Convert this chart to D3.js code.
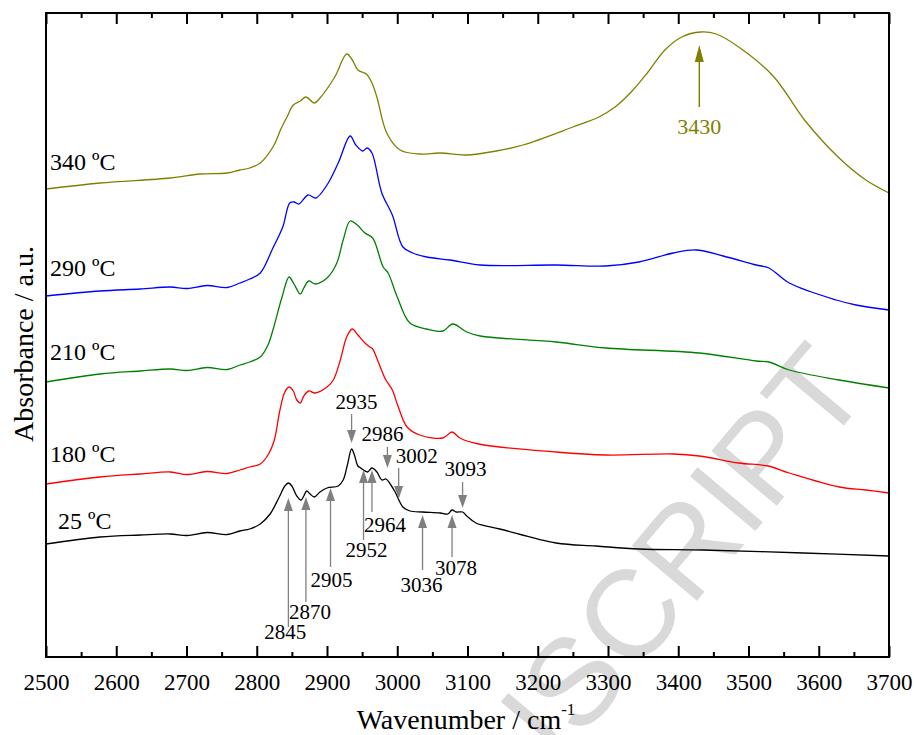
<!DOCTYPE html>
<html>
<head>
<meta charset="utf-8">
<script src="https://cdn.jsdelivr.net/npm/d3@7"></script>
<style>
  body { margin: 0; background: #fff; }
  svg { display: block; }
  text { font-family: "Liberation Serif", "Times New Roman", serif; }
</style>
</head>
<body>
<svg id="chart" width="916" height="735"></svg>
<script>
// FTIR spectra at several temperatures (absorbance in a.u., stacked)

var wn25 = [2500,2577,2634,2677,2701,2729,2758,2776,2790,2805,2819,2832,2840,2845,2850,2857,2863,2867,2871,2876,2882,2890,2900,2916,2923,2929,2935,2939,2944,2948,2952,2958,2964,2971,2978,2984,2990,2997,3008,3018,3036,3061,3072,3078,3084,3093,3099,3112,3146,3226,3283,3344,3435,3578,3700];
var abs25 = [1.13,1.20,1.22,1.23,1.215,1.245,1.225,1.26,1.28,1.33,1.43,1.60,1.71,1.74,1.71,1.61,1.57,1.61,1.66,1.63,1.60,1.65,1.69,1.71,1.77,1.92,2.08,2.02,1.91,1.89,1.87,1.85,1.89,1.85,1.77,1.78,1.73,1.65,1.50,1.46,1.45,1.44,1.43,1.47,1.45,1.45,1.41,1.34,1.28,1.14,1.11,1.08,1.07,1.04,1.01];

var wn180 = [2500,2577,2634,2677,2701,2729,2758,2776,2790,2805,2816,2825,2833,2840,2846,2852,2857,2862,2867,2874,2883,2900,2909,2919,2928,2936,2944,2954,2961,2965,2973,2983,2993,3000,3014,3032,3065,3078,3089,3116,3226,3297,3393,3430,3486,3528,3558,3629,3667,3700];
var abs180 = [1.73,1.80,1.83,1.85,1.825,1.855,1.835,1.87,1.90,1.93,2.02,2.17,2.47,2.65,2.70,2.66,2.57,2.54,2.61,2.66,2.64,2.70,2.77,2.97,3.20,3.28,3.22,3.14,3.10,3.08,2.95,2.78,2.67,2.53,2.30,2.22,2.19,2.25,2.19,2.13,2.05,2.02,2.03,2.01,1.94,1.91,1.84,1.70,1.67,1.64];

var wn210 = [2500,2577,2634,2677,2701,2729,2758,2776,2790,2805,2816,2823,2836,2846,2853,2862,2867,2874,2883,2900,2914,2923,2933,2943,2954,2965,2980,2987,3000,3018,3042,3065,3079,3099,3118,3226,3297,3430,3511,3529,3558,3629,3700];
var abs210 = [2.75,2.83,2.86,2.88,2.865,2.895,2.875,2.92,2.95,3.00,3.12,3.27,3.60,3.80,3.73,3.63,3.69,3.76,3.73,3.79,3.94,4.17,4.36,4.32,4.24,4.19,3.90,3.84,3.60,3.34,3.28,3.26,3.33,3.25,3.21,3.15,3.09,3.04,2.96,2.95,2.87,2.77,2.69];

var wn290 = [2500,2577,2634,2677,2701,2729,2758,2776,2790,2805,2823,2837,2847,2853,2860,2873,2884,2900,2916,2933,2941,2951,2957,2964,2978,2993,3008,3022,3042,3075,3118,3226,3297,3344,3393,3425,3464,3511,3529,3558,3625,3653,3700];
var abs290 = [3.61,3.66,3.68,3.70,3.685,3.715,3.695,3.74,3.78,3.84,4.09,4.30,4.54,4.55,4.53,4.62,4.59,4.72,4.94,5.21,5.12,5.06,5.09,5.04,4.64,4.42,4.10,4.04,4.00,3.97,3.92,3.92,3.91,3.95,4.04,4.07,4.01,3.92,3.89,3.74,3.57,3.52,3.47];

var wn340 = [2500,2577,2677,2719,2758,2776,2790,2805,2823,2835,2843,2852,2862,2870,2882,2890,2911,2928,2936,2944,2956,2964,2971,2985,3004,3032,3061,3098,3141,3179,3250,3287,3310,3333,3357,3381,3405,3432,3454,3486,3535,3582,3629,3667,3700];
var abs340 = [4.68,4.74,4.79,4.83,4.84,4.87,4.89,4.94,5.10,5.29,5.40,5.52,5.56,5.60,5.54,5.59,5.80,6.03,5.97,5.87,5.83,5.74,5.60,5.24,5.07,5.03,5.04,5.02,5.06,5.12,5.30,5.40,5.50,5.65,5.85,6.07,6.20,6.25,6.23,6.10,5.81,5.35,4.99,4.77,4.64];

var tempLabels = ["25 ºC", "180 ºC", "210 ºC", "290 ºC", "340 ºC"];
var xTicks = [2500,2600,2700,2800,2900,3000,3100,3200,3300,3400,3500,3600,3700];

// band positions marked on the 25 ºC spectrum
var peaks25 = [2845, 2870, 2905, 2935, 2952, 2964, 2986, 3002, 3036, 3078, 3093];
var peak340 = 3430;

var colors = ["#000000", "#ff0000", "#008000", "#0000ff", "#808000"];

var serif = "'Liberation Serif', 'Times New Roman', serif";

var svg = d3.select("#chart");

var x = d3.scaleLinear().domain([2500, 3700]).range([46, 889]);
var y = d3.scaleLinear().domain([0, 6.44]).range([657, 13]);

// watermark
svg.append("text")
    .attr("transform", "translate(872,392) rotate(-50)")
    .attr("text-anchor", "end")
    .style("font-family", "'Liberation Sans', Arial, sans-serif")
    .style("font-size", "124px")
    .attr("fill", "#d9d9d9")
    .text("ACCEPTED MANUSCRIPT");

var series = [
    {w: wn25, a: abs25},
    {w: wn180, a: abs180},
    {w: wn210, a: abs210},
    {w: wn290, a: abs290},
    {w: wn340, a: abs340}
];

var line = d3.line()
    .x(function (d) { return x(d[0]); })
    .y(function (d) { return y(d[1]); })
    .curve(d3.curveCatmullRom.alpha(0.5));

series.forEach(function (s, i) {
    var pts = s.w.map(function (w, j) { return [w, s.a[j]]; });
    svg.append("path")
        .datum(pts)
        .attr("fill", "none")
        .attr("stroke", colors[i])
        .attr("stroke-width", 1.3)
        .attr("d", line);
});

// temperature labels at the left
var labelBase = [529, 462, 360, 276, 170];
tempLabels.forEach(function (t, i) {
    svg.append("text")
        .attr("x", i === 0 ? 58 : 50)
        .attr("y", labelBase[i])
        .style("font-family", serif)
        .style("font-size", "24px")
        .attr("fill", "#000")
        .text(t);
});

// arrows for the peak assignments
// tip, tail, label baseline (a.u.), label dx (px)
var arrowLayout = [
    [1.59, 0.30, 0.18, -3],
    [1.60, 0.55, 0.38, 4],
    [1.69, 0.90, 0.70, 1],
    [2.14, 2.43, 2.48, 5],
    [1.87, 1.17, 1.00, 3],
    [1.87, 1.45, 1.25, 13],
    [1.89, 2.10, 2.16, -5],
    [1.58, 1.89, 1.94, 18],
    [1.42, 0.87, 0.65, -1],
    [1.42, 1.00, 0.82, 4],
    [1.49, 1.75, 1.81, 3]
];

function arrow(g, xp, yTip, yTail, color, headLen, headW, sw) {
    var dir = yTail > yTip ? 1 : -1;   // +1: arrow points up
    g.append("line")
        .attr("x1", xp).attr("x2", xp)
        .attr("y1", yTail).attr("y2", yTip + dir * headLen * 0.8)
        .attr("stroke", color)
        .attr("stroke-width", sw);
    g.append("path")
        .attr("d", "M" + xp + "," + yTip +
                   "L" + (xp - headW) + "," + (yTip + dir * headLen) +
                   "L" + (xp + headW) + "," + (yTip + dir * headLen) + "Z")
        .attr("fill", color);
}

var ann = svg.append("g");
peaks25.forEach(function (p, i) {
    var L = arrowLayout[i];
    var xp = x(p);
    arrow(ann, xp, y(L[0]), y(L[1]), "#808080", 13, 4.5, 1.3);
    ann.append("text")
        .attr("x", xp + L[3])
        .attr("y", y(L[2]))
        .attr("text-anchor", "middle")
        .style("font-family", serif)
        .style("font-size", "21px")
        .attr("fill", "#000")
        .text(p);
});

arrow(ann, x(peak340), y(6.12), y(5.50), "#808000", 17, 4.5, 1.5);
ann.append("text")
    .attr("x", x(peak340))
    .attr("y", y(5.23))
    .attr("text-anchor", "middle")
    .style("font-family", serif)
    .style("font-size", "22px")
    .attr("fill", "#808000")
    .text(peak340);

// axes: ticks inward on top and bottom
var xMinor = d3.range(2550, 3700, 100);

var bottom = svg.append("g")
    .attr("transform", "translate(0,657)")
    .call(d3.axisBottom(x).tickValues(xTicks).tickSize(-11).tickPadding(17).tickFormat(d3.format("d")));
svg.append("g")
    .attr("transform", "translate(0,657)")
    .call(d3.axisBottom(x).tickValues(xMinor).tickSize(-5).tickFormat(""));
svg.append("g")
    .attr("transform", "translate(0,13)")
    .call(d3.axisTop(x).tickValues(xTicks).tickSize(-11).tickFormat(""));
svg.append("g")
    .attr("transform", "translate(0,13)")
    .call(d3.axisTop(x).tickValues(xMinor).tickSize(-5).tickFormat(""));

svg.selectAll(".domain").remove();
svg.selectAll(".tick line").attr("stroke", "#000").attr("stroke-width", 2);
bottom.selectAll(".tick text")
    .style("font-family", serif)
    .style("font-size", "23px")
    .attr("fill", "#000");

svg.append("rect")
    .attr("x", 46).attr("y", 13)
    .attr("width", 889 - 46).attr("height", 657 - 13)
    .attr("fill", "none")
    .attr("stroke", "#000")
    .attr("stroke-width", 2);

// axis titles
var xt = svg.append("text")
    .attr("x", 466)
    .attr("y", 729)
    .attr("text-anchor", "middle")
    .style("font-family", serif)
    .style("font-size", "28px")
    .attr("fill", "#000");
xt.append("tspan").text("Wavenumber / cm");
xt.append("tspan").attr("dy", -14).style("font-size", "17px").text("-1");

svg.append("text")
    .attr("transform", "translate(33,344) rotate(-90)")
    .attr("text-anchor", "middle")
    .style("font-family", serif)
    .style("font-size", "28px")
    .attr("fill", "#000")
    .text("Absorbance / a.u.");
</script>
</body>
</html>
